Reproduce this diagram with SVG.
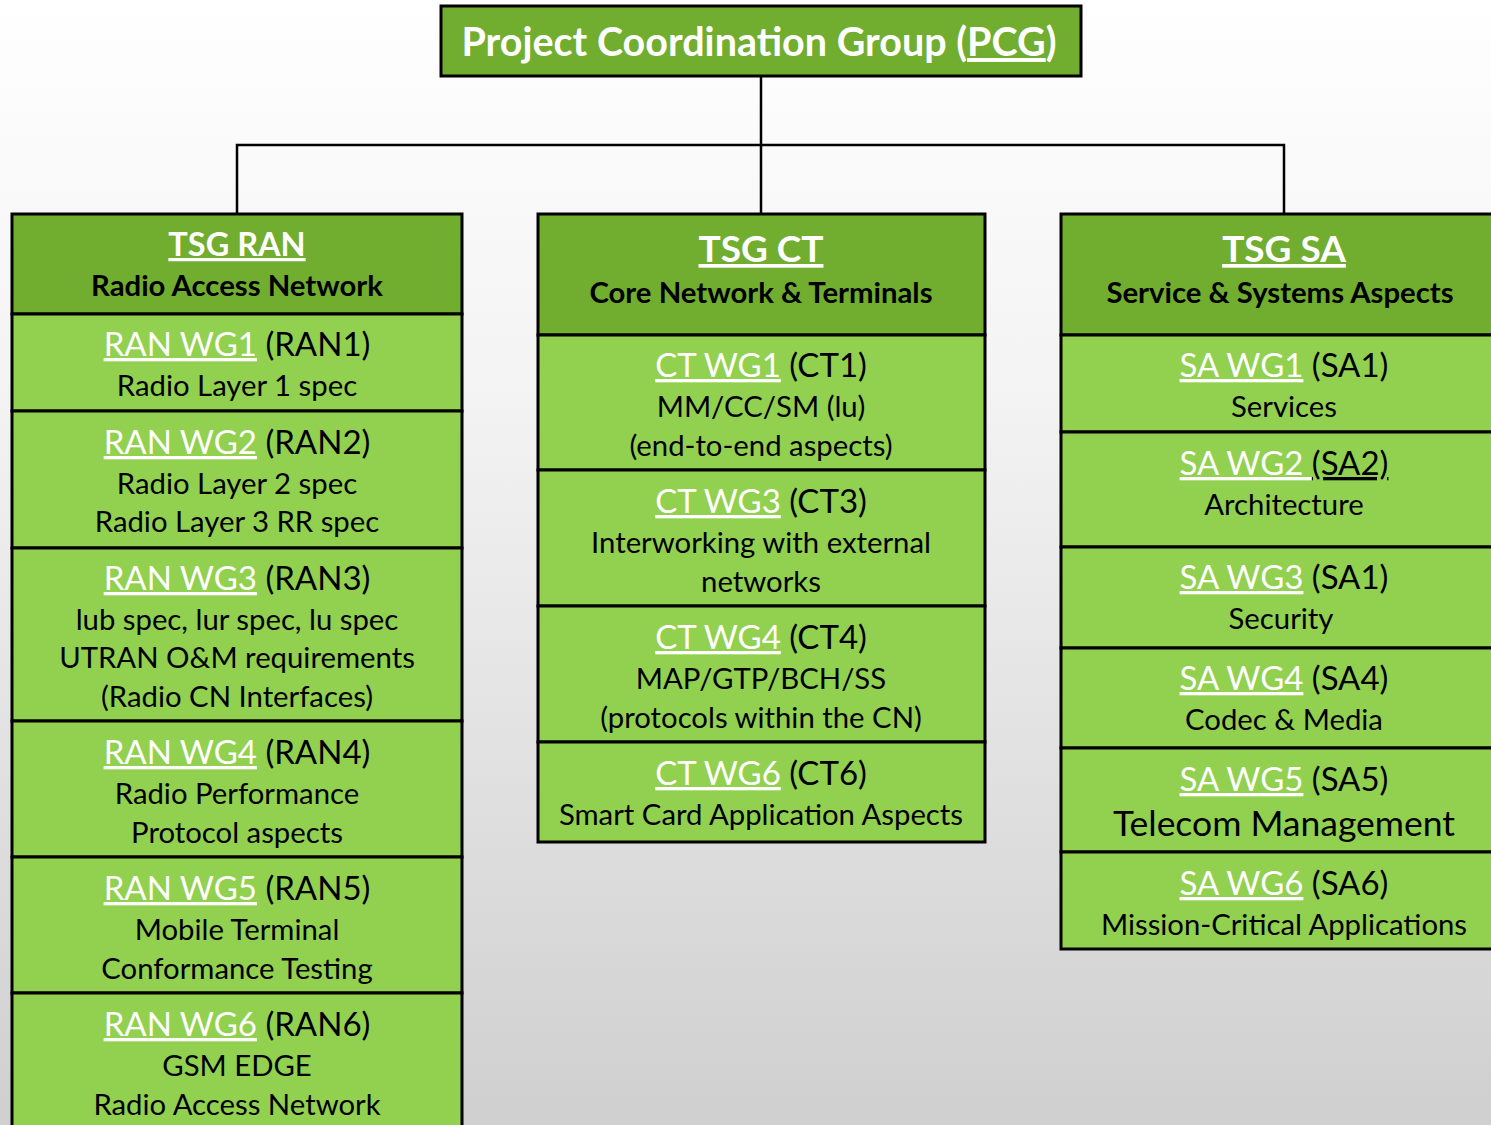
<svg xmlns="http://www.w3.org/2000/svg" width="1491" height="1125" viewBox="0 0 1491 1125">
<defs>
<linearGradient id="bg" x1="0" y1="0" x2="0" y2="1">
<stop offset="0" stop-color="#ffffff"/>
<stop offset="0.08" stop-color="#fcfcfc"/>
<stop offset="0.35" stop-color="#f3f3f3"/>
<stop offset="1" stop-color="#cfcfcf"/>
</linearGradient>
<style>
.dk{fill:#71ad2f;stroke:#000;stroke-width:3}
.lt{fill:#92d050;stroke:#000;stroke-width:3}
.conn{fill:none;stroke:#000;stroke-width:2.5}
text{font-family:Lato,"Liberation Sans",sans-serif;text-anchor:middle;fill:#000}
.pcg{font-size:39.5px;font-weight:bold;fill:#fff}
.tsg{font-size:37px;font-weight:bold;fill:#fff;text-decoration:underline}
.tsgs{font-size:29.3px;font-weight:bold}
.wg{font-size:33px}
.d{font-size:29.3px}
.u{fill:#fff;text-decoration:underline}
.ub{text-decoration:underline}
</style>
</defs>
<rect width="1491" height="1125" fill="url(#bg)"/>
<g id="connectors">
<path class="conn" d="M761 76V213M237 213V145H1284V213"/>
</g>
<g id="pcg">
<rect class="dk" x="441" y="6" width="640" height="70"/>
<text class="pcg" x="759" y="56">Project Coordination Group (<tspan class="ub">PCG</tspan>)</text>
</g>
<g id="tsg-ran">
<rect class="dk" x="12" y="214" width="450" height="100"/>
<text class="tsg" x="237" y="256" style="font-size:32.5px">TSG RAN</text>
<text class="tsgs" x="237" y="296">Radio Access Network</text>
</g>
<g id="ran-wg1">
<rect class="lt" x="12" y="314" width="450" height="97"/>
<text class="wg" x="237" y="356"><tspan class="u">RAN WG1</tspan> (RAN1)</text>
<text class="d" x="237" y="396">Radio Layer 1 spec</text>
</g>
<g id="ran-wg2">
<rect class="lt" x="12" y="411" width="450" height="137"/>
<text class="wg" x="237" y="454"><tspan class="u">RAN WG2</tspan> (RAN2)</text>
<text class="d" x="237" y="494">Radio Layer 2 spec</text>
<text class="d" x="237" y="532">Radio Layer 3 RR spec</text>
</g>
<g id="ran-wg3">
<rect class="lt" x="12" y="548" width="450" height="173"/>
<text class="wg" x="237" y="590"><tspan class="u">RAN WG3</tspan> (RAN3)</text>
<text class="d" x="237" y="630">lub spec, lur spec, lu spec</text>
<text class="d" x="237" y="668">UTRAN O&amp;M requirements</text>
<text class="d" x="237" y="707">(Radio CN Interfaces)</text>
</g>
<g id="ran-wg4">
<rect class="lt" x="12" y="721" width="450" height="136"/>
<text class="wg" x="237" y="764"><tspan class="u">RAN WG4</tspan> (RAN4)</text>
<text class="d" x="237" y="804">Radio Performance</text>
<text class="d" x="237" y="843">Protocol aspects</text>
</g>
<g id="ran-wg5">
<rect class="lt" x="12" y="857" width="450" height="136"/>
<text class="wg" x="237" y="900"><tspan class="u">RAN WG5</tspan> (RAN5)</text>
<text class="d" x="237" y="940">Mobile Terminal</text>
<text class="d" x="237" y="979">Conformance Testing</text>
</g>
<g id="ran-wg6">
<rect class="lt" x="12" y="993" width="450" height="140"/>
<text class="wg" x="237" y="1036"><tspan class="u">RAN WG6</tspan> (RAN6)</text>
<text class="d" x="237" y="1076">GSM EDGE</text>
<text class="d" x="237" y="1115">Radio Access Network</text>
</g>
<g id="tsg-ct">
<rect class="dk" x="538" y="214" width="447" height="121"/>
<text class="tsg" x="761" y="262">TSG CT</text>
<text class="tsgs" x="761" y="303">Core Network &amp; Terminals</text>
</g>
<g id="ct-wg1">
<rect class="lt" x="538" y="335" width="447" height="135"/>
<text class="wg" x="761" y="377"><tspan class="u">CT WG1</tspan> (CT1)</text>
<text class="d" x="761" y="417">MM/CC/SM (lu)</text>
<text class="d" x="761" y="456">(end-to-end aspects)</text>
</g>
<g id="ct-wg3">
<rect class="lt" x="538" y="470" width="447" height="136"/>
<text class="wg" x="761" y="513"><tspan class="u">CT WG3</tspan> (CT3)</text>
<text class="d" x="761" y="553">Interworking with external</text>
<text class="d" x="761" y="592">networks</text>
</g>
<g id="ct-wg4">
<rect class="lt" x="538" y="606" width="447" height="136"/>
<text class="wg" x="761" y="649"><tspan class="u">CT WG4</tspan> (CT4)</text>
<text class="d" x="761" y="689">MAP/GTP/BCH/SS</text>
<text class="d" x="761" y="728">(protocols within the CN)</text>
</g>
<g id="ct-wg6">
<rect class="lt" x="538" y="742" width="447" height="100"/>
<text class="wg" x="761" y="785"><tspan class="u">CT WG6</tspan> (CT6)</text>
<text class="d" x="761" y="825">Smart Card Application Aspects</text>
</g>
<g id="tsg-sa">
<rect class="dk" x="1061" y="214" width="440" height="121"/>
<text class="tsg" x="1284" y="262">TSG SA</text>
<text class="tsgs" x="1280" y="303">Service &amp; Systems Aspects</text>
</g>
<g id="sa-wg1">
<rect class="lt" x="1061" y="335" width="440" height="97"/>
<text class="wg" x="1284" y="377"><tspan class="u">SA WG1</tspan> (SA1)</text>
<text class="d" x="1284" y="417">Services</text>
</g>
<g id="sa-wg2">
<rect class="lt" x="1061" y="432" width="440" height="115"/>
<text class="wg" x="1284" y="475" xml:space="preserve"><tspan class="u">SA WG2 </tspan><tspan class="ub">(SA2)</tspan></text>
<text class="d" x="1284" y="515">Architecture</text>
</g>
<g id="sa-wg3">
<rect class="lt" x="1061" y="547" width="440" height="101"/>
<text class="wg" x="1284" y="589"><tspan class="u">SA WG3</tspan> (SA1)</text>
<text class="d" x="1281" y="629">Security</text>
</g>
<g id="sa-wg4">
<rect class="lt" x="1061" y="648" width="440" height="100"/>
<text class="wg" x="1284" y="690"><tspan class="u">SA WG4</tspan> (SA4)</text>
<text class="d" x="1284" y="730">Codec &amp; Media</text>
</g>
<g id="sa-wg5">
<rect class="lt" x="1061" y="748" width="440" height="104"/>
<text class="wg" x="1284" y="791"><tspan class="u">SA WG5</tspan> (SA5)</text>
<text class="wg" x="1284" y="836" style="font-size:35.5px">Telecom Management</text>
</g>
<g id="sa-wg6">
<rect class="lt" x="1061" y="852" width="440" height="97"/>
<text class="wg" x="1284" y="895"><tspan class="u">SA WG6</tspan> (SA6)</text>
<text class="d" x="1284" y="935">Mission-Critical Applications</text>
</g>
</svg>
